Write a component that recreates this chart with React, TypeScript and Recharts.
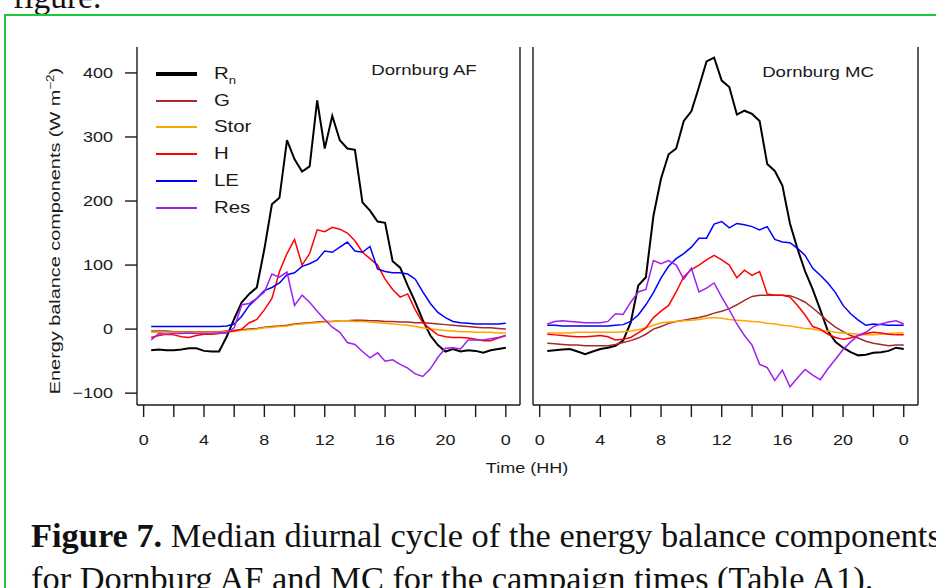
import React from 'react';
import { LineChart, Line, XAxis, YAxis } from 'recharts';

// half-hourly medians (W m-2)
const HOURS = [
  0.5, 1, 1.5, 2, 2.5, 3, 3.5, 4,
  4.5, 5, 5.5, 6, 6.5, 7, 7.5, 8,
  8.5, 9, 9.5, 10, 10.5, 11, 11.5, 12,
  12.5, 13, 13.5, 14, 14.5, 15, 15.5, 16,
  16.5, 17, 17.5, 18, 18.5, 19, 19.5, 20,
  20.5, 21, 21.5, 22, 22.5, 23, 23.5, 24,
];

const RN_AF = [
  -33, -32, -33, -33, -32, -30, -30, -34,
  -35, -35, -12, 16, 42, 55, 65, 125,
  195, 205, 295, 265, 246, 254, 357, 282,
  333, 295, 282, 280, 198, 185, 168, 166,
  106, 96, 68, 42, 14, -10, -25, -35,
  -31, -35, -33, -34, -37, -33, -31, -29,
];
const G_AF = [
  -3, -3, -3, -4, -4, -4, -4, -4,
  -4, -4, -3, -2, -1, 0, 1, 3,
  4, 5, 6, 8, 9, 10, 11, 12,
  12, 13, 13, 14, 14, 13, 13, 12,
  12, 11, 11, 10, 10, 9, 8, 7,
  6, 5, 4, 3, 2, 2, 1, 0,
];
const STOR_AF = [
  -5, -5, -5, -5, -5, -5, -5, -5,
  -5, -5, -4, -3, -2, -1, 0, 2,
  3, 4, 5, 7, 8, 9, 10, 11,
  12, 13, 13, 12, 12, 11, 10, 9,
  8, 7, 6, 4, 2, 0, -1, -2,
  -3, -4, -4, -5, -5, -5, -6, -6,
];
const H_AF = [
  -13, -10, -8, -9, -12, -13, -10, -8,
  -8, -7, -5, -3, 0, 10, 15, 30,
  48, 90, 118, 140, 100, 118, 155, 152,
  159, 156, 150, 138, 120, 110, 100, 78,
  62, 50, 55, 30, 10, 0, -9, -12,
  -13, -13, -14, -16, -18, -18, -14, -10,
];
const LE_AF = [
  4, 4, 4, 4, 4, 4, 4, 4,
  4, 4, 5, 8, 20, 37, 48, 60,
  65, 72, 85, 88, 98, 102, 108, 122,
  120, 128, 136, 122, 120, 129, 94, 90,
  88, 88, 86, 78, 58, 40, 26, 18,
  12, 10, 9, 8, 8, 8, 8, 9,
];
const RES_AF = [
  -17, -7, -8, -7, -7, -6, -7, -7,
  -7, -6, -6, 2, 38, 40, 48, 58,
  86, 81, 89, 37, 53, 42, 28, 15,
  3, -5, -21, -24, -35, -45, -37, -50,
  -48, -55, -61, -70, -74, -62, -44, -30,
  -29, -31, -17, -17, -17, -15, -13, -10,
];

const RN_MC = [
  -34, -33, -32, -31, -35, -39, -35, -31,
  -29, -26, -18, 10, 68, 81, 177, 235,
  273, 282, 325, 340, 378, 418, 424, 388,
  378, 335, 341, 336, 325, 258, 247, 224,
  165, 125, 90, 62, 30, -3, -20, -29,
  -36, -41, -40, -37, -36, -34, -29, -31,
];
const G_MC = [
  -22, -23, -24, -25, -25, -26, -26, -26,
  -26, -24, -21, -18, -14, -8, 0, 4,
  9, 12, 14, 16, 18, 21, 25, 28,
  32, 38, 45, 51, 53, 53, 53, 53,
  52, 48, 42, 33, 23, 12, 3, -4,
  -10, -14, -19, -22, -24, -26, -25, -25,
];
const STOR_MC = [
  -6, -6, -6, -6, -5, -5, -5, -5,
  -5, -5, -4, -3, -1, 2, 6, 10,
  11, 12, 13, 14, 15, 17, 18, 17,
  15, 14, 13, 12, 11, 9, 8, 6,
  5, 3, 1, 0, -2, -3, -5, -6,
  -7, -8, -9, -9, -8, -7, -6, -6,
];
const H_MC = [
  -8, -9, -10, -11, -12, -12, -11, -10,
  -12, -17, -16, -13, -6, 2, 18, 28,
  37, 58, 82, 93, 100, 108, 115, 108,
  100, 80, 92, 84, 90, 55, 53, 53,
  50, 37, 22, 4, 0, -8, -13, -16,
  -14, -10, -7, -5, -6, -8, -9, -9,
];
const LE_MC = [
  6, 6, 5, 5, 5, 5, 5, 5,
  5, 6, 7, 12, 22, 38, 57, 80,
  98, 110, 118, 128, 142, 142, 164, 168,
  158, 165, 163, 160, 155, 160, 140, 136,
  135, 126, 115, 95, 84, 72, 57, 37,
  24, 14, 6, 8, 7, 6, 6, 6,
];
const RES_MC = [
  8, 12, 13, 12, 11, 10, 10, 10,
  12, 24, 23, 42, 58, 62, 107, 102,
  107, 100, 78, 95, 58, 64, 72, 50,
  30, 8, -10, -25, -55, -60, -80, -64,
  -90, -76, -63, -72, -79, -62, -47, -32,
  -20, -10, -5, 4, 8, 11, 13, 8,
];

const X_TICKS = [0, 2, 4, 6, 8, 10, 12, 14, 16, 18, 20, 22, 24];
const Y_TICKS = [-100, 0, 100, 200, 300, 400];
const X_DOMAIN: [number, number] = [-0.44, 24.94];
const Y_DOMAIN: [number, number] = [-118.5, 440.5];

const SANS = "'Liberation Sans', Arial, Helvetica, sans-serif";
const SERIF = "'Liberation Serif', 'Times New Roman', serif";
const INK = '#1a1a1a';

const SERIES = [
  { key: 'rn', name: 'Rn', color: '#000000', width: 2, legendWidth: 4 },
  { key: 'g', name: 'G', color: '#a52a2a', width: 1.5, legendWidth: 2 },
  { key: 'stor', name: 'Stor', color: '#ffa500', width: 1.5, legendWidth: 2 },
  { key: 'h', name: 'H', color: '#ff0000', width: 1.5, legendWidth: 2 },
  { key: 'le', name: 'LE', color: '#0000ff', width: 1.5, legendWidth: 2 },
  { key: 'res', name: 'Res', color: '#a020f0', width: 1.5, legendWidth: 2 },
];

function buildRows(rn: number[], g: number[], stor: number[], h: number[], le: number[], res: number[]) {
  return HOURS.map((t, i) => ({ t, rn: rn[i], g: g[i], stor: stor[i], h: h[i], le: le[i], res: res[i] }));
}

const AF_ROWS = buildRows(RN_AF, G_AF, STOR_AF, H_AF, LE_AF, RES_AF);
const MC_ROWS = buildRows(RN_MC, G_MC, STOR_MC, H_MC, LE_MC, RES_MC);

const line = { stroke: INK, strokeWidth: 1.4 };

function XTick(props: any) {
  const { x, y, payload } = props;
  const v = payload.value as number;
  if (v % 4 !== 0) return <g />;
  return (
    <text transform={`translate(${x},${y + 26}) scale(1.2,1)`} textAnchor="middle" fontSize={15} fontFamily={SANS} fill={INK}>
      {v === 24 ? '0' : v}
    </text>
  );
}

function YTick(props: any) {
  const { x, y, payload } = props;
  const v = payload.value as number;
  return (
    <text transform={`translate(${x - 10},${y + 5}) scale(1.2,1)`} textAnchor="end" fontSize={15} fontFamily={SANS} fill={INK}>
      {v < 0 ? `\u2212${Math.abs(v)}` : v}
    </text>
  );
}

function Panel({ rows, first }: { rows: any[]; first: boolean }) {
  return (
    <div style={{ position: 'absolute', left: first ? 0 : 523, top: 0 }}>
      <LineChart width={first ? 530 : 396} height={460} data={rows} margin={{ top: 47, right: 0, bottom: 0, left: 0 }}>
        <XAxis
          xAxisId="b"
          type="number"
          dataKey="t"
          domain={X_DOMAIN}
          ticks={X_TICKS}
          interval={0}
          allowDataOverflow
          height={55}
          tickSize={12}
          tick={(p: any) => <XTick {...p} />}
          axisLine={line}
          tickLine={line}
        />
        <XAxis xAxisId="top" orientation="top" type="number" domain={X_DOMAIN} allowDataOverflow height={0} tick={false} tickLine={false} axisLine={line} />
        <YAxis
          yAxisId="l"
          type="number"
          domain={Y_DOMAIN}
          ticks={Y_TICKS}
          interval={0}
          allowDataOverflow
          width={first ? 137 : 10}
          tickSize={first ? 12 : 7}
          tick={first ? (p: any) => <YTick {...p} /> : false}
          axisLine={line}
          tickLine={line}
        />
        <YAxis
          yAxisId="r"
          orientation="right"
          type="number"
          domain={Y_DOMAIN}
          ticks={Y_TICKS}
          interval={0}
          allowDataOverflow
          width={first ? 10 : 1}
          tickSize={7}
          tick={false}
          axisLine={line}
          tickLine={first ? line : false}
        />
        {SERIES.map((s) => (
          <Line
            key={s.key}
            xAxisId="b"
            yAxisId="l"
            type="linear"
            dataKey={s.key}
            name={s.name}
            stroke={s.color}
            strokeWidth={s.width}
            dot={false}
            activeDot={false}
            isAnimationActive={false}
          />
        ))}
      </LineChart>
    </div>
  );
}

const wide = (extra: React.CSSProperties = {}): React.CSSProperties => ({
  position: 'absolute',
  fontFamily: SANS,
  color: INK,
  whiteSpace: 'nowrap',
  lineHeight: 1,
  ...extra,
});

function LegendBox() {
  return (
    <>
      {SERIES.map((s, i) => {
        const cy = Math.round(74 + i * 26.7);
        return (
          <React.Fragment key={s.key}>
            <div style={{ position: 'absolute', left: 156, top: cy - s.legendWidth / 2, width: 41, height: s.legendWidth, backgroundColor: s.color }} />
            <div style={wide({ left: 214, top: cy - 9, fontSize: 17, transform: 'scaleX(1.2)', transformOrigin: 'left center' })}>
              {s.key === 'rn' ? (
                <>
                  R<span style={{ fontSize: 11, position: 'relative', top: 5 }}>n</span>
                </>
              ) : (
                s.name
              )}
            </div>
          </React.Fragment>
        );
      })}
    </>
  );
}

export default function App() {
  return (
    <div style={{ position: 'absolute', left: 0, top: 0, width: 936, height: 588, overflow: 'hidden', background: '#fff' }}>
      <div style={{ position: 'absolute', left: 13, top: -25, fontFamily: SERIF, fontSize: 33.5, lineHeight: '43px', color: '#111', whiteSpace: 'nowrap' }}>
        figure.
      </div>
      <div style={{ position: 'absolute', left: 4, top: 14, width: 1000, height: 1000, border: '2px solid #1ccb3b', boxSizing: 'border-box' }} />

      <Panel rows={AF_ROWS} first />
      <Panel rows={MC_ROWS} first={false} />

      <LegendBox />
      <div style={wide({ left: 423.5, top: 70, fontSize: 15.5, transform: 'translate(-50%,-50%) scaleX(1.2)' })}>Dornburg AF</div>
      <div style={wide({ left: 817.5, top: 71.5, fontSize: 15.5, transform: 'translate(-50%,-50%) scaleX(1.2)' })}>Dornburg MC</div>

      <div style={wide({ left: 55, top: 231, fontSize: 15.5, transform: 'translate(-50%,-50%) rotate(-90deg) scaleX(1.28)' })}>
        Energy balance components (W m<span style={{ fontSize: 10.5, position: 'relative', top: -6 }}>{'\u22122'}</span>)
      </div>
      <div style={wide({ left: 526.5, top: 467, fontSize: 15, transform: 'translate(-50%,-50%) scaleX(1.2)' })}>Time (HH)</div>

      <div style={{ position: 'absolute', left: 31, top: 514, fontFamily: SERIF, fontSize: 34.4, lineHeight: '43px', color: '#111', whiteSpace: 'nowrap' }}>
        <b>Figure 7.</b> Median diurnal cycle of the energy balance components
        <br />
        for Dornburg AF and MC for the campaign times (Table A1).
      </div>
    </div>
  );
}
